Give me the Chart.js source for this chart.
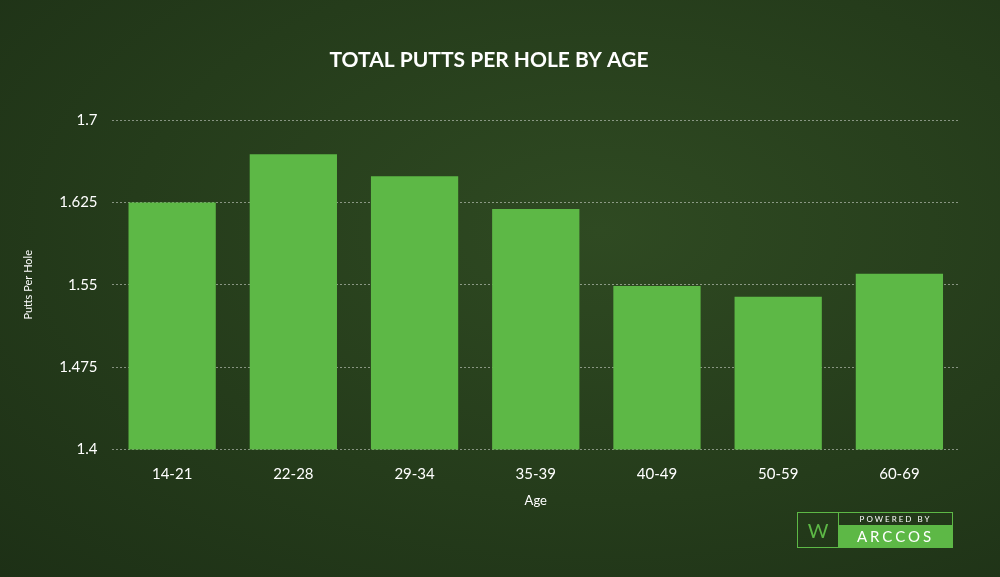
<!DOCTYPE html>
<html><head><meta charset="utf-8">
<script src="https://cdn.jsdelivr.net/npm/chart.js@4"></script>
<style>
html,body{margin:0;padding:0;width:1000px;height:577px;overflow:hidden;}
body{background:radial-gradient(ellipse at 60% 40%,#2f4a22 0%,#253c1b 55%,#1d3016 100%);font-family:Lato,"Open Sans",sans-serif;}
#wrap{position:absolute;left:0;top:0;width:1000px;height:577px;}
#logo{position:absolute;left:797px;top:512px;width:154px;height:34px;border:1px solid #5db846;display:flex;}
#logo .w{width:40px;border-right:1px solid #5db846;color:#5db846;font-size:20px;display:flex;align-items:center;justify-content:center;}
#logo .t{flex:1;display:flex;flex-direction:column;}
#logo .a{height:12px;font-size:8px;letter-spacing:2px;color:#fff;text-align:center;line-height:12px;border-bottom:1px solid #5db846;}
#logo .b{flex:1;background:#5db846;color:#fff;font-size:15px;letter-spacing:3px;text-align:center;line-height:21px;}
</style></head>
<body>
<div id="wrap"><canvas id="c" width="1000" height="577"></canvas></div>
<div id="logo"><div class="w">W</div><div class="t"><div class="a">POWERED BY</div><div class="b">ARCCOS</div></div></div>
<script>
const ages = ['14-21','22-28','29-34','35-39','40-49','50-59','60-69'];
const putts = [1.625, 1.669, 1.649, 1.619, 1.549, 1.539, 1.56];
const yTicks = [1.4, 1.475, 1.55, 1.625, 1.7];

new Chart(document.getElementById('c').getContext('2d'), {
  type: 'bar',
  data: {
    labels: ages,
    datasets: [{ data: putts, backgroundColor: '#5db846', barPercentage: 0.72, categoryPercentage: 1 }]
  },
  options: {
    responsive: false,
    animation: false,
    layout: { padding: { left: 18, right: 40, top: 48, bottom: 68 } },
    plugins: {
      legend: { display: false },
      tooltip: { enabled: false },
      title: { display: true, text: 'TOTAL PUTTS PER HOLE BY AGE', color: '#fff',
        font: { size: 21, weight: 'bold', family: 'Lato' }, padding: { top: 0, bottom: 47 } }
    },
    scales: {
      x: {
        grid: { display: false },
        border: { display: false },
        ticks: { color: '#fff', font: { size: 15, family: 'Lato' }, padding: 8 },
        title: { display: true, text: 'Age', color: '#fff', font: { size: 13, family: 'Lato' }, padding: { top: 2, bottom: 0 } }
      },
      y: {
        min: 1.4, max: 1.7,
        afterBuildTicks: ax => { ax.ticks = yTicks.map(v => ({ value: v })); },
        grid: { color: 'rgba(255,255,255,0.45)', borderDash: [2, 2], drawTicks: false },
        border: { display: false, dash: [2, 2] },
        ticks: { color: '#fff', font: { size: 15, family: 'Lato' }, padding: 14, callback: v => String(v) },
        title: { display: true, text: 'Putts Per Hole', color: '#fff', font: { size: 11, family: 'Lato' }, padding: { bottom: 10 } }
      }
    }
  }
});
</script>
</body></html>
